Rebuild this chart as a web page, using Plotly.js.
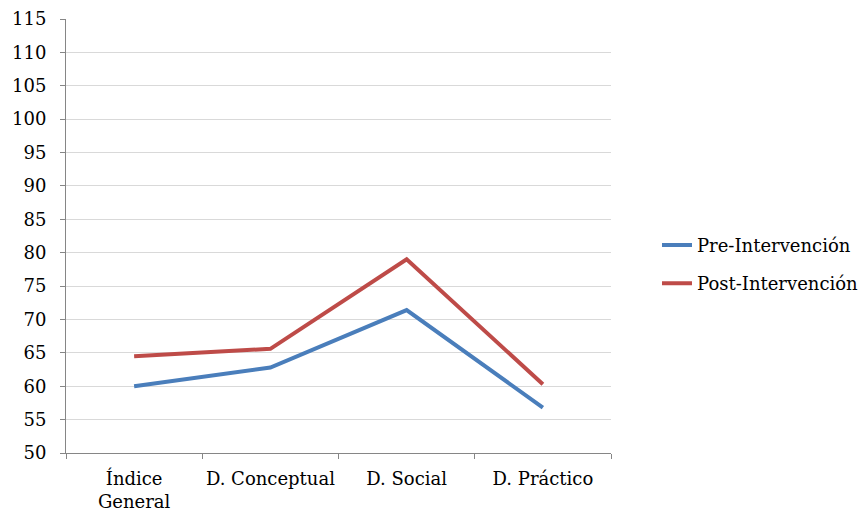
<!DOCTYPE html>
<html>
<head>
<meta charset="utf-8">
<script src="https://cdn.plot.ly/plotly-3.0.1.min.js"></script>
<style>html,body{margin:0;padding:0;background:#fff;}#chart{width:867px;height:518px;}</style>
</head>
<body>
<div id="chart"></div>
<script>
const categories = ["Índice<br>General", "D. Conceptual", "D. Social", "D. Práctico"];
const preValues = [60.0, 62.8, 71.4, 56.8];
const postValues = [64.5, 65.6, 79.0, 60.3];
const seriesNames = ["Pre-Intervención", "Post-Intervención"];
const yTicks = [50,55,60,65,70,75,80,85,90,95,100,105,110,115];

const fontFam = "'DejaVu Serif'";
const fs = 18;
const traces = [
  {x: categories, y: preValues, name: seriesNames[0], type: "scatter", mode: "lines",
   line: {color: "#4A7EBB", width: 4}, legendgroup: "a"},
  {x: categories, y: postValues, name: seriesNames[1], type: "scatter", mode: "lines",
   line: {color: "#BE4B48", width: 4}, legendgroup: "b"}
];
const layout = {
  width: 867, height: 518,
  margin: {l: 66, r: 256, t: 19, b: 65, autoexpand: false},
  paper_bgcolor: "#fff", plot_bgcolor: "#fff",
  font: {family: fontFam, size: fs, color: "#000"},
  showlegend: true,
  legend: {x: 1.0844, xanchor: "left", y: 0.435, yanchor: "middle",
           font: {family: fontFam, size: fs, color: "#000"},
           traceorder: "grouped", tracegroupgap: 12, bgcolor: "rgba(0,0,0,0)"},
  xaxis: {type: "category", range: [-0.5, 3.5], showgrid: false,
          showline: true, linecolor: "#868686", linewidth: 1, tickangle: 0,
          ticks: "outside", tickson: "boundaries", ticklen: 5, tickcolor: "#868686",
          ticklabelstandoff: 9,
          tickfont: {family: fontFam, size: fs}, fixedrange: true},
  yaxis: {range: [50, 115], tickvals: yTicks, ticktext: yTicks.map(String),
          showgrid: true, gridcolor: "#D9D9D9", gridwidth: 1,
          showline: true, linecolor: "#868686", linewidth: 1,
          ticks: "outside", ticklen: 5, tickcolor: "#868686", zeroline: false,
          ticklabelstandoff: 10,
          tickfont: {family: fontFam, size: fs}, fixedrange: true}
};
Plotly.newPlot("chart", traces, layout, {displayModeBar: false, staticPlot: true});
</script>
</body>
</html>
